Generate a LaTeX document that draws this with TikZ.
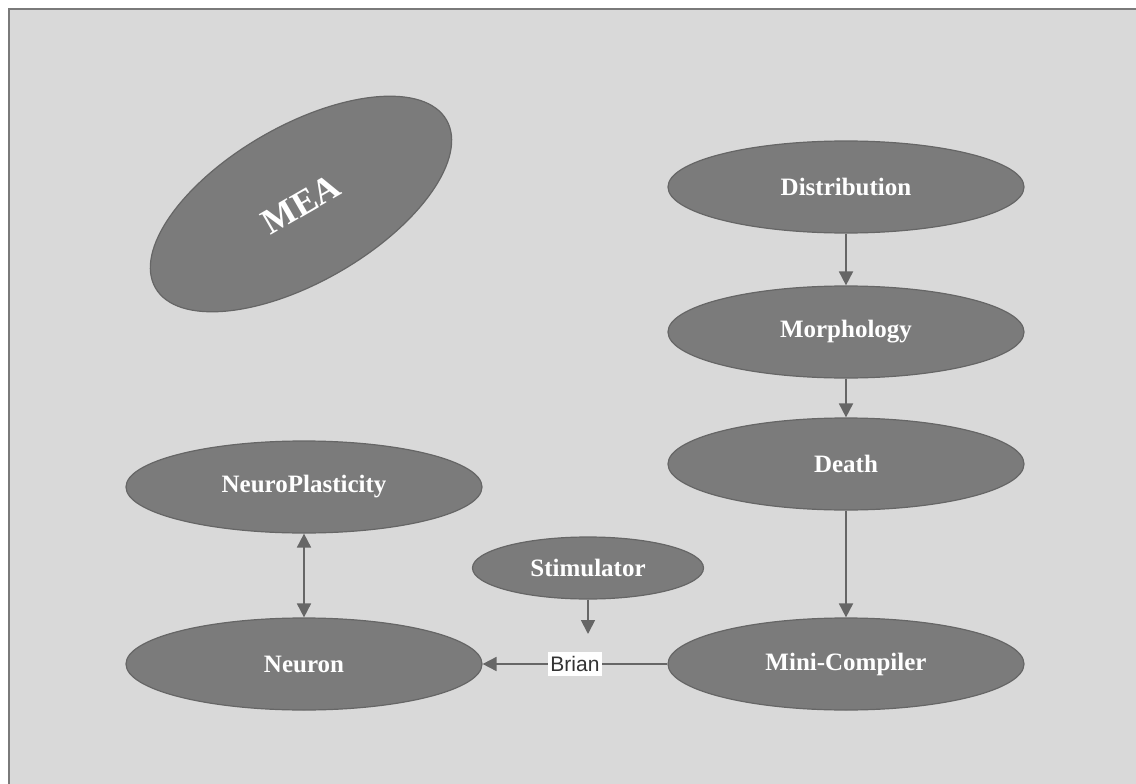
\documentclass[tikz,border=0pt]{standalone}
\usepackage{fontspec}
\setmainfont{Liberation Serif}
\setsansfont{Liberation Sans}
\usetikzlibrary{shapes.geometric,arrows.meta}
\definecolor{canvas}{HTML}{D9D9D9}
\definecolor{frameline}{HTML}{7A7A7A}
\definecolor{bubble}{HTML}{7B7B7B}
\definecolor{bubbleline}{HTML}{666666}
\definecolor{linkline}{HTML}{666666}
\tikzset{
  bubblenode/.style={ellipse, fill=bubble, draw=bubbleline, line width=1.2pt,
    inner sep=0pt, text=white, font=\bfseries\fontsize{25}{28}\selectfont},
  wide/.style={bubblenode, minimum width=356pt, minimum height=92pt},
  link/.style={draw=linkline, line width=1.8pt,
    -{Triangle[length=14pt,width=14pt]}},
  twoway/.style={draw=linkline, line width=1.8pt,
    {Triangle[length=14pt,width=14pt]}-{Triangle[length=14pt,width=14pt]}},
  edgelabel/.style={fill=white, inner xsep=2pt, inner ysep=4pt, text=black!80,
    font=\sffamily\fontsize{21}{24}\selectfont}
}
\begin{document}
\begin{tikzpicture}[x=1pt,y=-1pt]
  \useasboundingbox (0,0) rectangle (1136,784);
  % canvas with frame on top and left
  \fill[canvas] (9,9) rectangle (1140,790);
  \draw[frameline, line width=2.5pt] (9,790) -- (9,9) -- (1140,9);

  % rotated MEA bubble
  \node[bubblenode, rotate=30, minimum width=336pt, minimum height=156pt,
        font=\bfseries\fontsize{36}{40}\selectfont] (mea) at (301,204) {MEA};

  % right-hand chain
  \node[wide] (dist)  at (846,187) {Distribution};
  \node[wide] (morph) at (846,332) {Morphology};
  \node[wide] (death) at (846,464) {Death};
  \node[wide] (mini)  at (846,664) {Mini-Compiler};

  % left-hand pair
  \node[wide] (plast)  at (304,487) {NeuroPlasticity};
  \node[wide] (neuron) at (304,664) {Neuron};

  % stimulator
  \node[bubblenode, minimum width=231pt, minimum height=62pt] (stim) at (588,568) {Stimulator};
  \coordinate (stimtip) at (588,634);

  % connectors
  \draw[link] (dist) -- (morph);
  \draw[link] (morph) -- (death);
  \draw[link] (death) -- (mini);
  \draw[link] (stim) -- (stimtip);
  \draw[link] (mini) -- node[edgelabel] (brian) {Brian} (neuron);
  \draw[twoway] (plast) -- (neuron);
\end{tikzpicture}
\end{document}
